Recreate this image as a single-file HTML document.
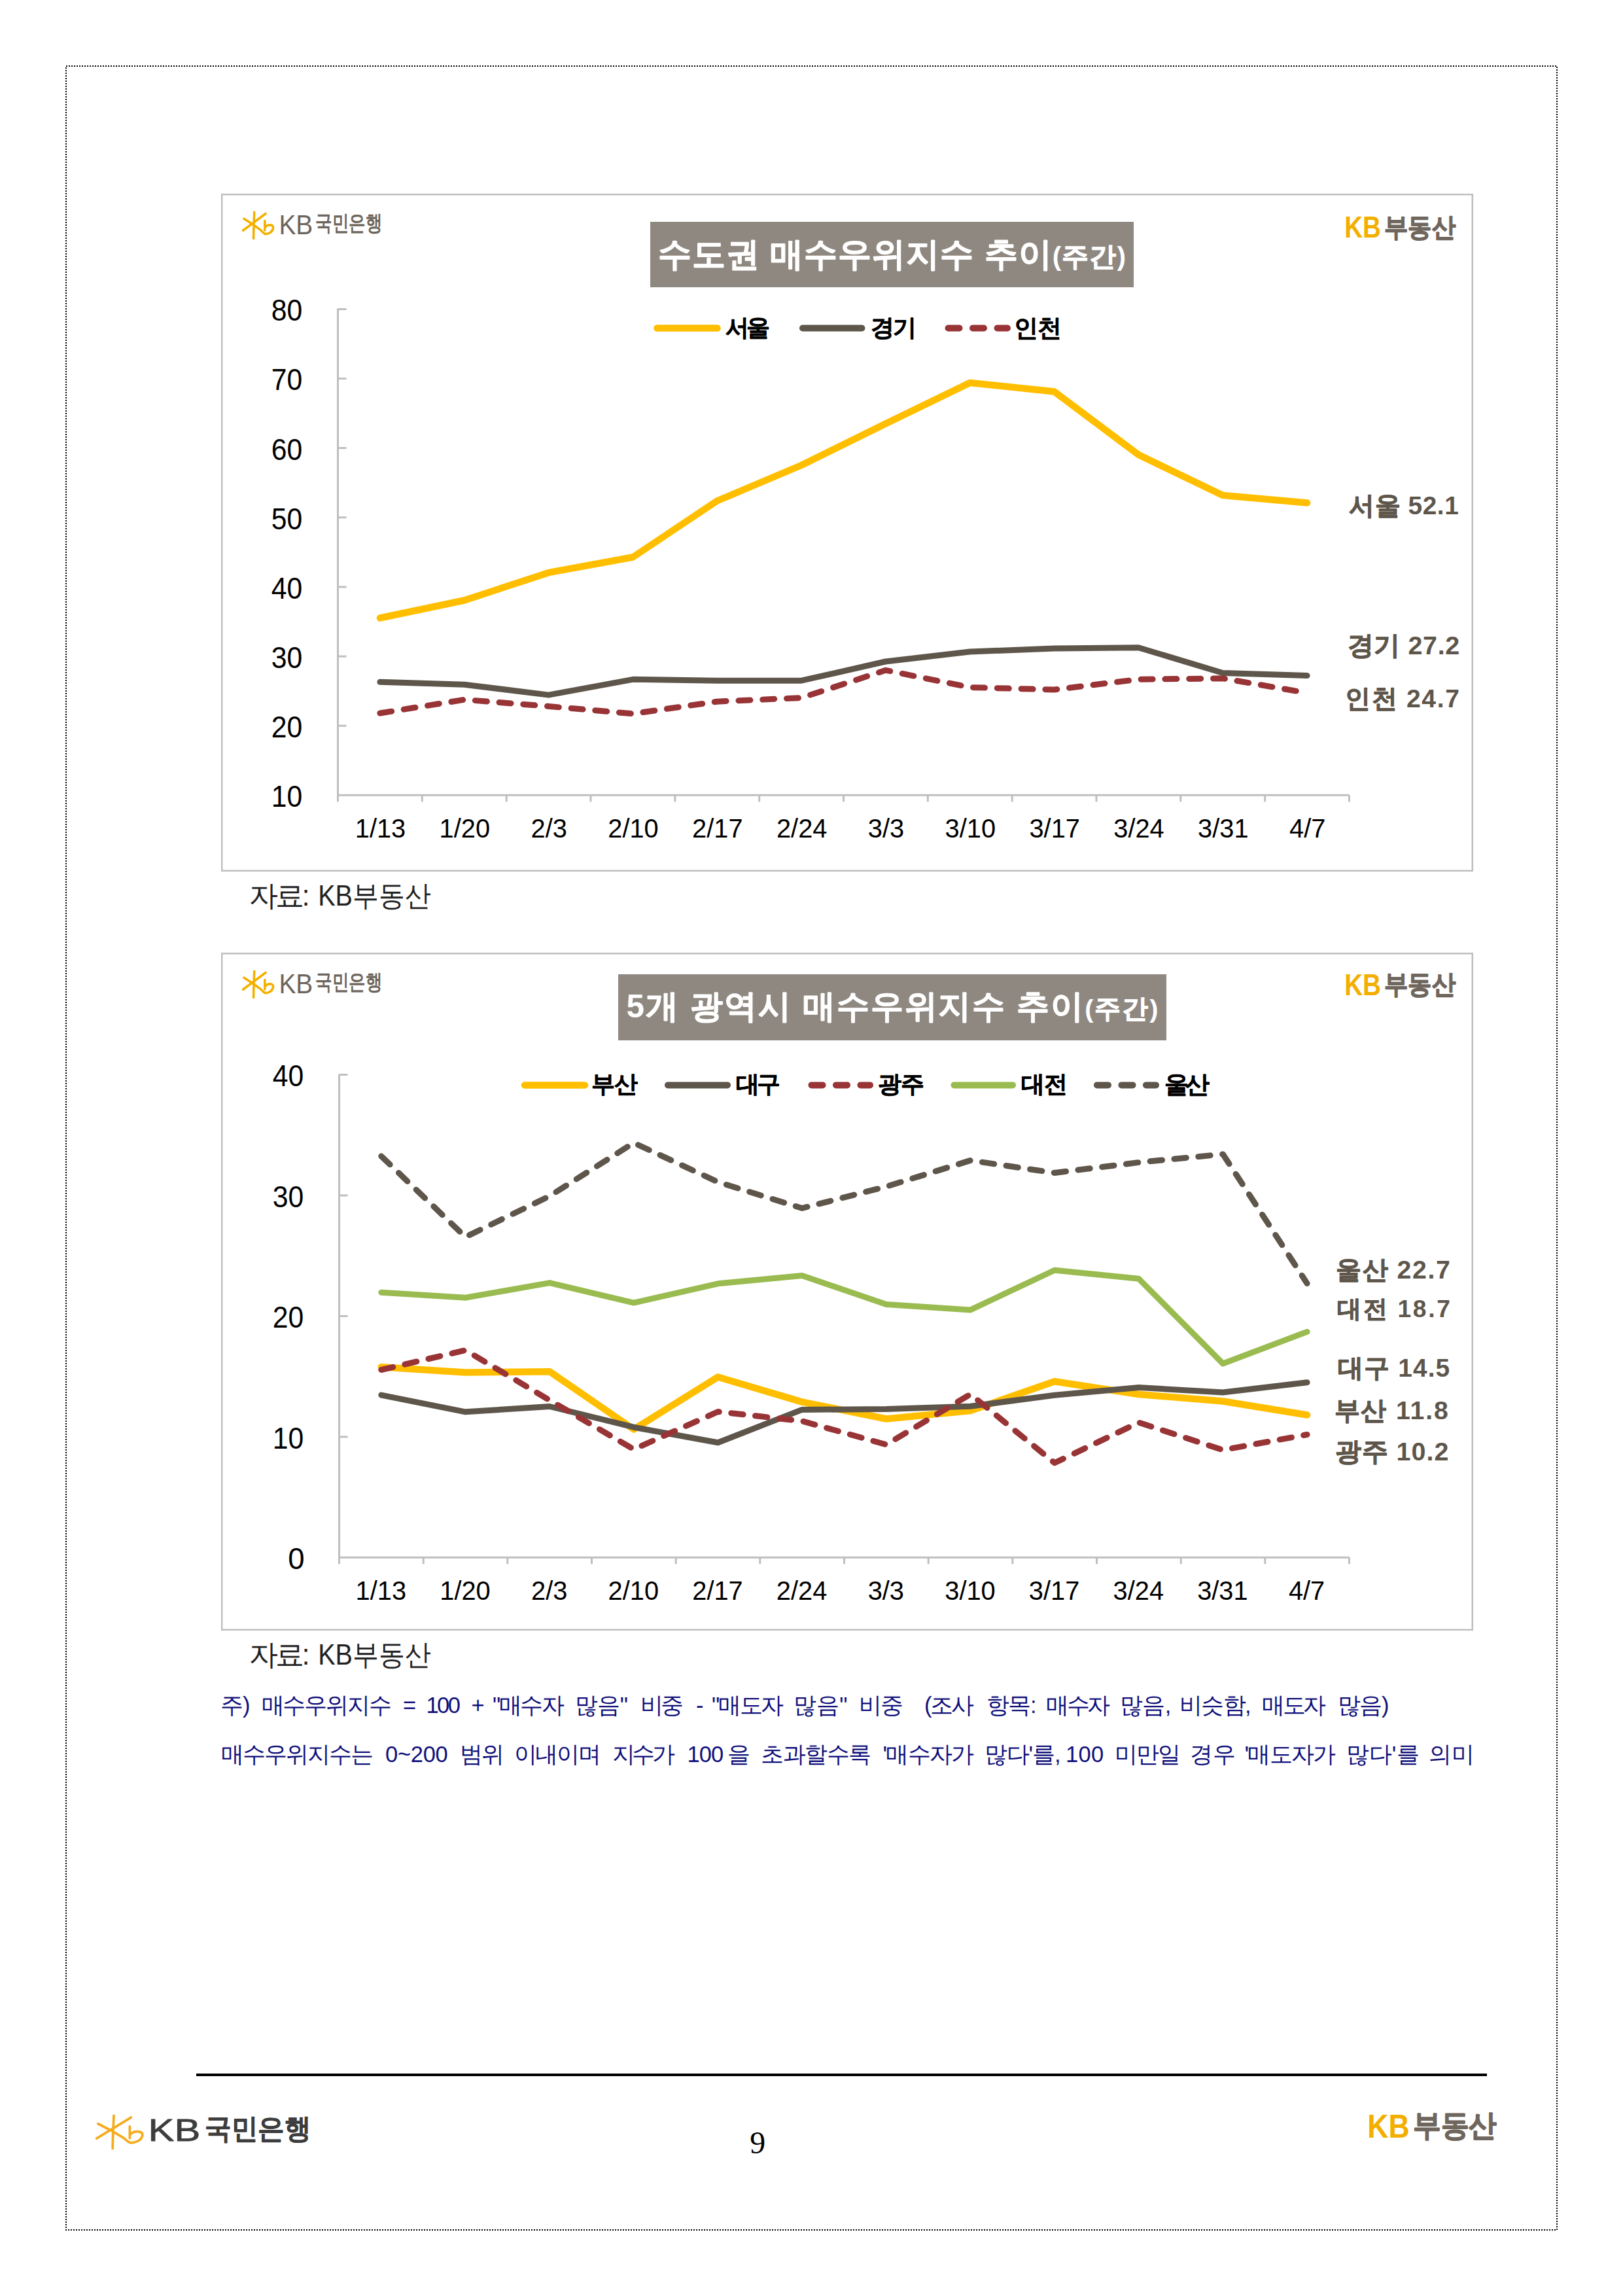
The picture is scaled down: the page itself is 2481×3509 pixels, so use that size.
<!DOCTYPE html>
<html><head><meta charset="utf-8">
<style>
html,body{margin:0;padding:0;background:#fff;}
body{width:2481px;height:3509px;position:relative;overflow:hidden;font-family:"Liberation Sans",sans-serif;}
text{white-space:pre;}
</style></head><body>
<svg style="position:absolute;left:0;top:0" width="2481" height="3509" viewBox="0 0 2481 3509">
<rect x="101" y="101" width="2279" height="3307" fill="none" stroke="#000" stroke-width="2" stroke-dasharray="2 2"/>
<rect x="339.2" y="297.2" width="1911.6" height="1033.6" fill="none" stroke="#bfbfbf" stroke-width="2.5"/>
<rect x="339.2" y="1457.2" width="1911.6" height="1033.6" fill="none" stroke="#bfbfbf" stroke-width="2.5"/>
<rect x="994" y="339" width="739" height="100" fill="#8f8881"/>
<rect x="945" y="1489" width="838" height="101" fill="#8f8881"/>
<line x1="516.5" y1="471.5" x2="516.5" y2="1215.3" stroke="#bfbfbf" stroke-width="3"/>
<line x1="516.5" y1="472.5" x2="529.5" y2="472.5" stroke="#bfbfbf" stroke-width="3"/>
<line x1="516.5" y1="578.6" x2="529.5" y2="578.6" stroke="#bfbfbf" stroke-width="3"/>
<line x1="516.5" y1="684.7" x2="529.5" y2="684.7" stroke="#bfbfbf" stroke-width="3"/>
<line x1="516.5" y1="790.8" x2="529.5" y2="790.8" stroke="#bfbfbf" stroke-width="3"/>
<line x1="516.5" y1="897.0" x2="529.5" y2="897.0" stroke="#bfbfbf" stroke-width="3"/>
<line x1="516.5" y1="1003.1" x2="529.5" y2="1003.1" stroke="#bfbfbf" stroke-width="3"/>
<line x1="516.5" y1="1109.2" x2="529.5" y2="1109.2" stroke="#bfbfbf" stroke-width="3"/>
<line x1="515.0" y1="1215.3" x2="2062.5" y2="1215.3" stroke="#bfbfbf" stroke-width="3"/>
<line x1="516.5" y1="1215.3" x2="516.5" y2="1225.3" stroke="#bfbfbf" stroke-width="3"/>
<line x1="645.3" y1="1215.3" x2="645.3" y2="1225.3" stroke="#bfbfbf" stroke-width="3"/>
<line x1="774.2" y1="1215.3" x2="774.2" y2="1225.3" stroke="#bfbfbf" stroke-width="3"/>
<line x1="903.0" y1="1215.3" x2="903.0" y2="1225.3" stroke="#bfbfbf" stroke-width="3"/>
<line x1="1031.8" y1="1215.3" x2="1031.8" y2="1225.3" stroke="#bfbfbf" stroke-width="3"/>
<line x1="1160.7" y1="1215.3" x2="1160.7" y2="1225.3" stroke="#bfbfbf" stroke-width="3"/>
<line x1="1289.5" y1="1215.3" x2="1289.5" y2="1225.3" stroke="#bfbfbf" stroke-width="3"/>
<line x1="1418.3" y1="1215.3" x2="1418.3" y2="1225.3" stroke="#bfbfbf" stroke-width="3"/>
<line x1="1547.2" y1="1215.3" x2="1547.2" y2="1225.3" stroke="#bfbfbf" stroke-width="3"/>
<line x1="1676.0" y1="1215.3" x2="1676.0" y2="1225.3" stroke="#bfbfbf" stroke-width="3"/>
<line x1="1804.8" y1="1215.3" x2="1804.8" y2="1225.3" stroke="#bfbfbf" stroke-width="3"/>
<line x1="1933.7" y1="1215.3" x2="1933.7" y2="1225.3" stroke="#bfbfbf" stroke-width="3"/>
<line x1="2062.5" y1="1215.3" x2="2062.5" y2="1225.3" stroke="#bfbfbf" stroke-width="3"/>
<line x1="518.5" y1="1641.5" x2="518.5" y2="2380.3" stroke="#bfbfbf" stroke-width="3"/>
<line x1="518.5" y1="1642.5" x2="531.5" y2="1642.5" stroke="#bfbfbf" stroke-width="3"/>
<line x1="518.5" y1="1827.0" x2="531.5" y2="1827.0" stroke="#bfbfbf" stroke-width="3"/>
<line x1="518.5" y1="2011.4" x2="531.5" y2="2011.4" stroke="#bfbfbf" stroke-width="3"/>
<line x1="518.5" y1="2195.9" x2="531.5" y2="2195.9" stroke="#bfbfbf" stroke-width="3"/>
<line x1="517.0" y1="2380.3" x2="2062.5" y2="2380.3" stroke="#bfbfbf" stroke-width="3"/>
<line x1="518.5" y1="2380.3" x2="518.5" y2="2390.3" stroke="#bfbfbf" stroke-width="3"/>
<line x1="647.2" y1="2380.3" x2="647.2" y2="2390.3" stroke="#bfbfbf" stroke-width="3"/>
<line x1="775.8" y1="2380.3" x2="775.8" y2="2390.3" stroke="#bfbfbf" stroke-width="3"/>
<line x1="904.5" y1="2380.3" x2="904.5" y2="2390.3" stroke="#bfbfbf" stroke-width="3"/>
<line x1="1033.2" y1="2380.3" x2="1033.2" y2="2390.3" stroke="#bfbfbf" stroke-width="3"/>
<line x1="1161.8" y1="2380.3" x2="1161.8" y2="2390.3" stroke="#bfbfbf" stroke-width="3"/>
<line x1="1290.5" y1="2380.3" x2="1290.5" y2="2390.3" stroke="#bfbfbf" stroke-width="3"/>
<line x1="1419.2" y1="2380.3" x2="1419.2" y2="2390.3" stroke="#bfbfbf" stroke-width="3"/>
<line x1="1547.8" y1="2380.3" x2="1547.8" y2="2390.3" stroke="#bfbfbf" stroke-width="3"/>
<line x1="1676.5" y1="2380.3" x2="1676.5" y2="2390.3" stroke="#bfbfbf" stroke-width="3"/>
<line x1="1805.2" y1="2380.3" x2="1805.2" y2="2390.3" stroke="#bfbfbf" stroke-width="3"/>
<line x1="1933.8" y1="2380.3" x2="1933.8" y2="2390.3" stroke="#bfbfbf" stroke-width="3"/>
<line x1="2062.5" y1="2380.3" x2="2062.5" y2="2390.3" stroke="#bfbfbf" stroke-width="3"/>
<rect x="300" y="3169" width="1973" height="4" fill="#000"/>
<polyline points="580.9,944.5 709.7,917.5 838.6,875.2 967.4,851.5 1096.2,765.5 1225.1,711.0 1353.9,647.5 1482.7,585.0 1611.6,598.5 1740.4,695.0 1869.2,757.0 1998.1,768.5" fill="none" stroke="#ffbf00" stroke-width="10.5" stroke-linecap="round" stroke-linejoin="round"/>
<polyline points="580.9,1042.3 709.7,1046.2 838.6,1062.1 967.4,1038.3 1096.2,1040.2 1225.1,1040.2 1353.9,1011.0 1482.7,996.0 1611.6,991.0 1740.4,989.7 1869.2,1028.5 1998.1,1032.5" fill="none" stroke="#5f564b" stroke-width="9" stroke-linecap="round" stroke-linejoin="round"/>
<polyline points="580.9,1090.0 709.7,1069.3 838.6,1079.5 967.4,1090.8 1096.2,1072.2 1225.1,1066.5 1353.9,1024.3 1482.7,1050.5 1611.6,1054.0 1740.4,1038.3 1869.2,1036.8 1998.1,1059.0" fill="none" stroke="#993436" stroke-width="9" stroke-linecap="round" stroke-linejoin="round" stroke-dasharray="18 18.8"/>
<polyline points="582.8,2089.2 711.5,2097.4 840.2,2096.2 968.8,2184.5 1097.5,2104.5 1226.1,2142.6 1354.8,2168.5 1483.5,2156.0 1612.1,2111.2 1740.8,2131.0 1869.4,2141.5 1998.1,2162.5" fill="none" stroke="#ffbf00" stroke-width="10.5" stroke-linecap="round" stroke-linejoin="round"/>
<polyline points="582.8,2132.1 711.5,2157.8 840.2,2149.5 968.8,2181.2 1097.5,2204.8 1226.1,2154.4 1354.8,2153.6 1483.5,2149.2 1612.1,2132.3 1740.8,2120.5 1869.4,2128.0 1998.1,2112.8" fill="none" stroke="#5f564b" stroke-width="9" stroke-linecap="round" stroke-linejoin="round"/>
<polyline points="582.8,2093.5 711.5,2063.6 840.2,2140.0 968.8,2215.0 1097.5,2157.5 1226.1,2171.8 1354.8,2207.8 1483.5,2130.8 1612.1,2235.8 1740.8,2174.0 1869.4,2216.0 1998.1,2192.5" fill="none" stroke="#993436" stroke-width="9" stroke-linecap="round" stroke-linejoin="round" stroke-dasharray="18.5 18.5"/>
<polyline points="582.8,1975.3 711.5,1983.2 840.2,1960.6 968.8,1991.1 1097.5,1961.8 1226.1,1949.5 1354.8,1993.4 1483.5,2001.9 1612.1,1941.3 1740.8,1954.3 1869.4,2084.0 1998.1,2035.4" fill="none" stroke="#9abb50" stroke-width="9" stroke-linecap="round" stroke-linejoin="round"/>
<polyline points="582.8,1767.0 711.5,1890.5 840.2,1828.0 968.8,1746.6 1097.5,1806.5 1226.1,1846.5 1354.8,1813.5 1483.5,1773.5 1612.1,1792.5 1740.8,1776.5 1869.4,1764.0 1998.1,1961.5" fill="none" stroke="#5f564b" stroke-width="9" stroke-linecap="round" stroke-linejoin="round" stroke-dasharray="18.5 18.5"/>
<line x1="1004.5" y1="501.5" x2="1096.5" y2="501.5" stroke="#ffbf00" stroke-width="10.5" stroke-linecap="round"/>
<line x1="1227" y1="501.5" x2="1317.5" y2="501.5" stroke="#5f564b" stroke-width="10" stroke-linecap="round"/>
<line x1="1449.5" y1="501.5" x2="1540" y2="501.5" stroke="#993436" stroke-width="10" stroke-linecap="round" stroke-dasharray="17 20.5"/>
<line x1="802" y1="1658.4" x2="894" y2="1658.4" stroke="#ffbf00" stroke-width="10.5" stroke-linecap="round"/>
<line x1="1021" y1="1658.4" x2="1112" y2="1658.4" stroke="#5f564b" stroke-width="10" stroke-linecap="round"/>
<line x1="1240.5" y1="1658.4" x2="1330" y2="1658.4" stroke="#993436" stroke-width="10" stroke-linecap="round" stroke-dasharray="17 20.5"/>
<line x1="1458.5" y1="1658.4" x2="1548" y2="1658.4" stroke="#9abb50" stroke-width="10" stroke-linecap="round"/>
<line x1="1677" y1="1658.4" x2="1767" y2="1658.4" stroke="#5f564b" stroke-width="10" stroke-linecap="round" stroke-dasharray="17 20.5"/>
<text id="kbKB1" x="426.4" y="358.1" font-size="42.7" fill="#6d655d" font-weight="normal" font-family="'Liberation Sans', sans-serif" textLength="51.9" lengthAdjust="spacingAndGlyphs">KB</text>
<text id="kbkm1" x="482.0" y="352.4" font-size="33.3" fill="#6d655d" font-weight="bold" font-family="'Liberation Sans', sans-serif" textLength="102.0" lengthAdjust="spacingAndGlyphs">국민은행</text>
<text id="reKB1" x="2055.2" y="363.4" font-size="45.4" fill="#f3ae00" font-weight="bold" font-family="'Liberation Sans', sans-serif" textLength="55.8" lengthAdjust="spacingAndGlyphs">KB</text>
<text id="rebd1" x="2116.0" y="360.6" font-size="39.7" fill="#6f665d" font-weight="bold" font-family="'Liberation Sans', sans-serif" textLength="109.0" lengthAdjust="spacingAndGlyphs"><tspan stroke="#6f665d" stroke-width="1.4" stroke-linejoin="round">부동산</tspan></text>
<text id="kbKB2" x="426.4" y="1518.1" font-size="42.7" fill="#6d655d" font-weight="normal" font-family="'Liberation Sans', sans-serif" textLength="51.9" lengthAdjust="spacingAndGlyphs">KB</text>
<text id="kbkm2" x="482.0" y="1512.4" font-size="33.3" fill="#6d655d" font-weight="bold" font-family="'Liberation Sans', sans-serif" textLength="102.0" lengthAdjust="spacingAndGlyphs">국민은행</text>
<text id="reKB2" x="2055.2" y="1520.9" font-size="45.4" fill="#f3ae00" font-weight="bold" font-family="'Liberation Sans', sans-serif" textLength="55.8" lengthAdjust="spacingAndGlyphs">KB</text>
<text id="rebd2" x="2116.0" y="1518.1" font-size="39.7" fill="#6f665d" font-weight="bold" font-family="'Liberation Sans', sans-serif" textLength="109.0" lengthAdjust="spacingAndGlyphs"><tspan stroke="#6f665d" stroke-width="1.4" stroke-linejoin="round">부동산</tspan></text>
<text id="title1" x="1006.0" y="406.0" font-size="50.7" fill="#fff" font-weight="bold" font-family="'Liberation Sans', sans-serif" textLength="714.9" lengthAdjust="spacing"><tspan stroke="#fff" stroke-width="1.0" stroke-linejoin="round">수도권</tspan> <tspan stroke="#fff" stroke-width="1.0" stroke-linejoin="round">매수우위지수</tspan> <tspan stroke="#fff" stroke-width="1.0" stroke-linejoin="round">추이</tspan><tspan font-size="0.8em">(<tspan stroke="#fff" stroke-width="1.0" stroke-linejoin="round">주간</tspan>)</tspan></text>
<text id="title2" x="957.6" y="1555.1" font-size="49.5" fill="#fff" font-weight="bold" font-family="'Liberation Sans', sans-serif" textLength="812.9" lengthAdjust="spacing">5<tspan stroke="#fff" stroke-width="1.0" stroke-linejoin="round">개</tspan> <tspan stroke="#fff" stroke-width="1.0" stroke-linejoin="round">광역시</tspan> <tspan stroke="#fff" stroke-width="1.0" stroke-linejoin="round">매수우위지수</tspan> <tspan stroke="#fff" stroke-width="1.0" stroke-linejoin="round">추이</tspan><tspan font-size="0.8em">(<tspan stroke="#fff" stroke-width="1.0" stroke-linejoin="round">주간</tspan>)</tspan></text>
<text id="lg_s" x="1109.0" y="513.4" font-size="35.7" fill="#000" font-weight="bold" font-family="'Liberation Sans', sans-serif" textLength="68.2" lengthAdjust="spacing"><tspan stroke="#000" stroke-width="0.6" stroke-linejoin="round">서울</tspan></text>
<text id="lg_g" x="1330.5" y="513.4" font-size="35.7" fill="#000" font-weight="bold" font-family="'Liberation Sans', sans-serif" textLength="70.6" lengthAdjust="spacing"><tspan stroke="#000" stroke-width="0.6" stroke-linejoin="round">경기</tspan></text>
<text id="lg_i" x="1550.0" y="513.9" font-size="36.5" fill="#000" font-weight="bold" font-family="'Liberation Sans', sans-serif" textLength="72.6" lengthAdjust="spacing"><tspan stroke="#000" stroke-width="0.6" stroke-linejoin="round">인천</tspan></text>
<text id="lg_bs" x="904.0" y="1669.0" font-size="36.0" fill="#000" font-weight="bold" font-family="'Liberation Sans', sans-serif" textLength="71.4" lengthAdjust="spacing"><tspan stroke="#000" stroke-width="0.6" stroke-linejoin="round">부산</tspan></text>
<text id="lg_dg" x="1125.0" y="1669.0" font-size="36.0" fill="#000" font-weight="bold" font-family="'Liberation Sans', sans-serif" textLength="68.4" lengthAdjust="spacing"><tspan stroke="#000" stroke-width="0.6" stroke-linejoin="round">대구</tspan></text>
<text id="lg_gj" x="1341.5" y="1669.0" font-size="36.0" fill="#000" font-weight="bold" font-family="'Liberation Sans', sans-serif" textLength="71.4" lengthAdjust="spacing"><tspan stroke="#000" stroke-width="0.6" stroke-linejoin="round">광주</tspan></text>
<text id="lg_dj" x="1561.0" y="1669.0" font-size="36.0" fill="#000" font-weight="bold" font-family="'Liberation Sans', sans-serif" textLength="71.0" lengthAdjust="spacing"><tspan stroke="#000" stroke-width="0.6" stroke-linejoin="round">대전</tspan></text>
<text id="lg_us" x="1779.5" y="1669.5" font-size="36.9" fill="#000" font-weight="bold" font-family="'Liberation Sans', sans-serif" textLength="69.4" lengthAdjust="spacing"><tspan stroke="#000" stroke-width="0.6" stroke-linejoin="round">울산</tspan></text>
<text id="r_s" x="2062.0" y="785.7" font-size="38.8" fill="#5e564b" font-weight="bold" font-family="'Liberation Sans', sans-serif" textLength="167.8" lengthAdjust="spacing"><tspan stroke="#5e564b" stroke-width="0.9" stroke-linejoin="round">서울</tspan> 52.1</text>
<text id="r_g" x="2059.5" y="1000.3" font-size="39.5" fill="#5e564b" font-weight="bold" font-family="'Liberation Sans', sans-serif" textLength="171.8" lengthAdjust="spacing"><tspan stroke="#5e564b" stroke-width="0.9" stroke-linejoin="round">경기</tspan> 27.2</text>
<text id="r_i" x="2056.0" y="1080.5" font-size="39.1" fill="#5e564b" font-weight="bold" font-family="'Liberation Sans', sans-serif" textLength="175.0" lengthAdjust="spacing"><tspan stroke="#5e564b" stroke-width="0.9" stroke-linejoin="round">인천</tspan> 24.7</text>
<text id="r_us" x="2042.0" y="1953.9" font-size="39.3" fill="#5e564b" font-weight="bold" font-family="'Liberation Sans', sans-serif" textLength="174.8" lengthAdjust="spacing"><tspan stroke="#5e564b" stroke-width="0.9" stroke-linejoin="round">울산</tspan> 22.7</text>
<text id="r_dj" x="2044.0" y="2013.2" font-size="37.2" fill="#5e564b" font-weight="bold" font-family="'Liberation Sans', sans-serif" textLength="173.0" lengthAdjust="spacing"><tspan stroke="#5e564b" stroke-width="0.9" stroke-linejoin="round">대전</tspan> 18.7</text>
<text id="r_dg" x="2045.0" y="2103.7" font-size="38.8" fill="#5e564b" font-weight="bold" font-family="'Liberation Sans', sans-serif" textLength="171.2" lengthAdjust="spacing"><tspan stroke="#5e564b" stroke-width="0.9" stroke-linejoin="round">대구</tspan> 14.5</text>
<text id="r_bs" x="2039.5" y="2169.0" font-size="39.2" fill="#5e564b" font-weight="bold" font-family="'Liberation Sans', sans-serif" textLength="174.2" lengthAdjust="spacing"><tspan stroke="#5e564b" stroke-width="0.9" stroke-linejoin="round">부산</tspan> 11.8</text>
<text id="r_gj" x="2040.5" y="2231.8" font-size="39.5" fill="#5e564b" font-weight="bold" font-family="'Liberation Sans', sans-serif" textLength="174.0" lengthAdjust="spacing"><tspan stroke="#5e564b" stroke-width="0.9" stroke-linejoin="round">광주</tspan> 10.2</text>
<text id="srcA1" x="381.0" y="1383.9" font-size="43.6" fill="#222" font-weight="normal" font-family="'Liberation Sans', sans-serif" textLength="92.7" lengthAdjust="spacing">자료:</text>
<text id="srcB1" x="486.2" y="1383.9" font-size="43.6" fill="#222" font-weight="normal" font-family="'Liberation Sans', sans-serif" textLength="172.4" lengthAdjust="spacingAndGlyphs">KB부동산</text>
<text id="srcA2" x="381.0" y="2543.9" font-size="43.6" fill="#222" font-weight="normal" font-family="'Liberation Sans', sans-serif" textLength="92.7" lengthAdjust="spacing">자료:</text>
<text id="srcB2" x="486.2" y="2543.9" font-size="43.6" fill="#222" font-weight="normal" font-family="'Liberation Sans', sans-serif" textLength="172.4" lengthAdjust="spacingAndGlyphs">KB부동산</text>
<text id="n0_0" x="336.5" y="2617.5" font-size="34.5" fill="#10107a" font-weight="normal" font-family="'Liberation Sans', sans-serif" textLength="46.1" lengthAdjust="spacing">주)</text>
<text id="n0_1" x="399.5" y="2617.5" font-size="34.5" fill="#10107a" font-weight="normal" font-family="'Liberation Sans', sans-serif" textLength="199.0" lengthAdjust="spacing">매수우위지수</text>
<text id="n0_2" x="616.0" y="2617.5" font-size="34.5" fill="#10107a" font-weight="normal" font-family="'Liberation Sans', sans-serif">=</text>
<text id="n0_3" x="651.5" y="2617.5" font-size="34.5" fill="#10107a" font-weight="normal" font-family="'Liberation Sans', sans-serif" textLength="52.4" lengthAdjust="spacing">100</text>
<text id="n0_4" x="720.5" y="2617.5" font-size="34.5" fill="#10107a" font-weight="normal" font-family="'Liberation Sans', sans-serif">+</text>
<text id="n0_5" x="753.0" y="2617.5" font-size="34.5" fill="#10107a" font-weight="normal" font-family="'Liberation Sans', sans-serif" textLength="109.9" lengthAdjust="spacing">&quot;매수자</text>
<text id="n0_6" x="879.0" y="2617.5" font-size="34.5" fill="#10107a" font-weight="normal" font-family="'Liberation Sans', sans-serif" textLength="81.1" lengthAdjust="spacing">많음&quot;</text>
<text id="n0_7" x="978.5" y="2617.5" font-size="34.5" fill="#10107a" font-weight="normal" font-family="'Liberation Sans', sans-serif" textLength="66.6" lengthAdjust="spacing">비중</text>
<text id="n0_8" x="1064.0" y="2617.5" font-size="34.5" fill="#10107a" font-weight="normal" font-family="'Liberation Sans', sans-serif">-</text>
<text id="n0_9" x="1088.0" y="2617.5" font-size="34.5" fill="#10107a" font-weight="normal" font-family="'Liberation Sans', sans-serif" textLength="110.4" lengthAdjust="spacing">&quot;매도자</text>
<text id="n0_10" x="1213.0" y="2617.5" font-size="34.5" fill="#10107a" font-weight="normal" font-family="'Liberation Sans', sans-serif" textLength="82.6" lengthAdjust="spacing">많음&quot;</text>
<text id="n0_11" x="1313.0" y="2617.5" font-size="34.5" fill="#10107a" font-weight="normal" font-family="'Liberation Sans', sans-serif" textLength="68.0" lengthAdjust="spacing">비중</text>
<text id="n0_12" x="1413.0" y="2617.5" font-size="34.5" fill="#10107a" font-weight="normal" font-family="'Liberation Sans', sans-serif" textLength="75.7" lengthAdjust="spacing">(조사</text>
<text id="n0_13" x="1507.5" y="2617.5" font-size="34.5" fill="#10107a" font-weight="normal" font-family="'Liberation Sans', sans-serif" textLength="77.0" lengthAdjust="spacing">항목:</text>
<text id="n0_14" x="1599.0" y="2617.5" font-size="34.5" fill="#10107a" font-weight="normal" font-family="'Liberation Sans', sans-serif" textLength="98.2" lengthAdjust="spacing">매수자</text>
<text id="n0_15" x="1712.0" y="2617.5" font-size="34.5" fill="#10107a" font-weight="normal" font-family="'Liberation Sans', sans-serif" textLength="78.4" lengthAdjust="spacing">많음,</text>
<text id="n0_16" x="1803.0" y="2617.5" font-size="34.5" fill="#10107a" font-weight="normal" font-family="'Liberation Sans', sans-serif" textLength="109.6" lengthAdjust="spacing">비슷함,</text>
<text id="n0_17" x="1929.0" y="2617.5" font-size="34.5" fill="#10107a" font-weight="normal" font-family="'Liberation Sans', sans-serif" textLength="98.0" lengthAdjust="spacing">매도자</text>
<text id="n0_18" x="2044.5" y="2617.5" font-size="34.5" fill="#10107a" font-weight="normal" font-family="'Liberation Sans', sans-serif" textLength="79.1" lengthAdjust="spacing">많음)</text>
<text id="n1_0" x="338.0" y="2692.5" font-size="34.5" fill="#10107a" font-weight="normal" font-family="'Liberation Sans', sans-serif" textLength="233.4" lengthAdjust="spacing">매수우위지수는</text>
<text id="n1_1" x="589.0" y="2692.5" font-size="34.5" fill="#10107a" font-weight="normal" font-family="'Liberation Sans', sans-serif" textLength="95.7" lengthAdjust="spacing">0~200</text>
<text id="n1_2" x="703.0" y="2692.5" font-size="34.5" fill="#10107a" font-weight="normal" font-family="'Liberation Sans', sans-serif" textLength="67.8" lengthAdjust="spacing">범위</text>
<text id="n1_3" x="785.5" y="2692.5" font-size="34.5" fill="#10107a" font-weight="normal" font-family="'Liberation Sans', sans-serif" textLength="133.4" lengthAdjust="spacing">이내이며</text>
<text id="n1_4" x="935.5" y="2692.5" font-size="34.5" fill="#10107a" font-weight="normal" font-family="'Liberation Sans', sans-serif" textLength="96.8" lengthAdjust="spacing">지수가</text>
<text id="n1_5" x="1050.5" y="2692.5" font-size="34.5" fill="#10107a" font-weight="normal" font-family="'Liberation Sans', sans-serif" textLength="55.8" lengthAdjust="spacing">100</text>
<text id="n1_6" x="1111.5" y="2692.5" font-size="34.5" fill="#10107a" font-weight="normal" font-family="'Liberation Sans', sans-serif">을</text>
<text id="n1_7" x="1163.0" y="2692.5" font-size="34.5" fill="#10107a" font-weight="normal" font-family="'Liberation Sans', sans-serif" textLength="169.0" lengthAdjust="spacing">초과할수록</text>
<text id="n1_8" x="1349.5" y="2692.5" font-size="34.5" fill="#10107a" font-weight="normal" font-family="'Liberation Sans', sans-serif" textLength="139.6" lengthAdjust="spacing">'매수자가</text>
<text id="n1_9" x="1504.5" y="2692.5" font-size="34.5" fill="#10107a" font-weight="normal" font-family="'Liberation Sans', sans-serif" textLength="117.2" lengthAdjust="spacing">많다'를,</text>
<text id="n1_10" x="1629.0" y="2692.5" font-size="34.5" fill="#10107a" font-weight="normal" font-family="'Liberation Sans', sans-serif" textLength="58.2" lengthAdjust="spacing">100</text>
<text id="n1_11" x="1704.0" y="2692.5" font-size="34.5" fill="#10107a" font-weight="normal" font-family="'Liberation Sans', sans-serif" textLength="101.2" lengthAdjust="spacing">미만일</text>
<text id="n1_12" x="1818.5" y="2692.5" font-size="34.5" fill="#10107a" font-weight="normal" font-family="'Liberation Sans', sans-serif" textLength="70.8" lengthAdjust="spacing">경우</text>
<text id="n1_13" x="1902.5" y="2692.5" font-size="34.5" fill="#10107a" font-weight="normal" font-family="'Liberation Sans', sans-serif" textLength="139.6" lengthAdjust="spacing">'매도자가</text>
<text id="n1_14" x="2057.5" y="2692.5" font-size="34.5" fill="#10107a" font-weight="normal" font-family="'Liberation Sans', sans-serif" textLength="112.0" lengthAdjust="spacing">많다'를</text>
<text id="n1_15" x="2184.0" y="2692.5" font-size="34.5" fill="#10107a" font-weight="normal" font-family="'Liberation Sans', sans-serif" textLength="70.0" lengthAdjust="spacing">의미</text>
<text id="fKB" x="226.6" y="3271.9" font-size="47.8" fill="#3d3d3d" font-weight="normal" font-family="'Liberation Sans', sans-serif" textLength="79.6" lengthAdjust="spacingAndGlyphs" stroke="#3d3d3d" stroke-width="0.8" stroke-linejoin="round">KB</text>
<text id="fkm" x="313.2" y="3268.2" font-size="43.4" fill="#3d3d3d" font-weight="bold" font-family="'Liberation Sans', sans-serif" textLength="162.0" lengthAdjust="spacingAndGlyphs"><tspan stroke="#3d3d3d" stroke-width="0.5" stroke-linejoin="round">국민은행</tspan></text>
<text id="p9" x="1146.2" y="3290.6" font-size="47.9" fill="#000" font-weight="normal" font-family="'Liberation Serif', serif">9</text>
<text id="fre_KB" x="2090.2" y="3267.1" font-size="50.6" fill="#f3ae00" font-weight="bold" font-family="'Liberation Sans', sans-serif" textLength="64.5" lengthAdjust="spacingAndGlyphs">KB</text>
<text id="fre_bd" x="2160.0" y="3264.1" font-size="45.5" fill="#6f665d" font-weight="bold" font-family="'Liberation Sans', sans-serif" textLength="128.2" lengthAdjust="spacingAndGlyphs"><tspan stroke="#6f665d" stroke-width="1.4" stroke-linejoin="round">부동산</tspan></text>
<text x="462.2" y="490.3" font-size="45.5" text-anchor="end" textLength="47.5" lengthAdjust="spacingAndGlyphs" font-family="'Liberation Sans', sans-serif">80</text>
<text x="462.2" y="596.4" font-size="45.5" text-anchor="end" textLength="47.5" lengthAdjust="spacingAndGlyphs" font-family="'Liberation Sans', sans-serif">70</text>
<text x="462.2" y="702.5" font-size="45.5" text-anchor="end" textLength="47.5" lengthAdjust="spacingAndGlyphs" font-family="'Liberation Sans', sans-serif">60</text>
<text x="462.2" y="808.6" font-size="45.5" text-anchor="end" textLength="47.5" lengthAdjust="spacingAndGlyphs" font-family="'Liberation Sans', sans-serif">50</text>
<text x="462.2" y="914.8" font-size="45.5" text-anchor="end" textLength="47.5" lengthAdjust="spacingAndGlyphs" font-family="'Liberation Sans', sans-serif">40</text>
<text x="462.2" y="1020.9" font-size="45.5" text-anchor="end" textLength="47.5" lengthAdjust="spacingAndGlyphs" font-family="'Liberation Sans', sans-serif">30</text>
<text x="462.2" y="1127.0" font-size="45.5" text-anchor="end" textLength="47.5" lengthAdjust="spacingAndGlyphs" font-family="'Liberation Sans', sans-serif">20</text>
<text x="462.2" y="1233.1" font-size="45.5" text-anchor="end" textLength="47.5" lengthAdjust="spacingAndGlyphs" font-family="'Liberation Sans', sans-serif">10</text>
<text x="464.3" y="1660.3" font-size="45.5" text-anchor="end" textLength="47.5" lengthAdjust="spacingAndGlyphs" font-family="'Liberation Sans', sans-serif">40</text>
<text x="464.3" y="1844.8" font-size="45.5" text-anchor="end" textLength="47.5" lengthAdjust="spacingAndGlyphs" font-family="'Liberation Sans', sans-serif">30</text>
<text x="464.3" y="2029.2" font-size="45.5" text-anchor="end" textLength="47.5" lengthAdjust="spacingAndGlyphs" font-family="'Liberation Sans', sans-serif">20</text>
<text x="464.3" y="2213.7" font-size="45.5" text-anchor="end" textLength="47.5" lengthAdjust="spacingAndGlyphs" font-family="'Liberation Sans', sans-serif">10</text>
<text x="465.5" y="2398.1" font-size="45.5" text-anchor="end" font-family="'Liberation Sans', sans-serif">0</text>
<text x="581.5" y="1280.0" font-size="39.8" text-anchor="middle" font-family="'Liberation Sans', sans-serif">1/13</text>
<text x="582.3" y="2445.0" font-size="39.8" text-anchor="middle" font-family="'Liberation Sans', sans-serif">1/13</text>
<text x="710.3" y="1280.0" font-size="39.8" text-anchor="middle" font-family="'Liberation Sans', sans-serif">1/20</text>
<text x="711.0" y="2445.0" font-size="39.8" text-anchor="middle" font-family="'Liberation Sans', sans-serif">1/20</text>
<text x="839.2" y="1280.0" font-size="39.8" text-anchor="middle" font-family="'Liberation Sans', sans-serif">2/3</text>
<text x="839.7" y="2445.0" font-size="39.8" text-anchor="middle" font-family="'Liberation Sans', sans-serif">2/3</text>
<text x="968.0" y="1280.0" font-size="39.8" text-anchor="middle" font-family="'Liberation Sans', sans-serif">2/10</text>
<text x="968.3" y="2445.0" font-size="39.8" text-anchor="middle" font-family="'Liberation Sans', sans-serif">2/10</text>
<text x="1096.8" y="1280.0" font-size="39.8" text-anchor="middle" font-family="'Liberation Sans', sans-serif">2/17</text>
<text x="1097.0" y="2445.0" font-size="39.8" text-anchor="middle" font-family="'Liberation Sans', sans-serif">2/17</text>
<text x="1225.7" y="1280.0" font-size="39.8" text-anchor="middle" font-family="'Liberation Sans', sans-serif">2/24</text>
<text x="1225.6" y="2445.0" font-size="39.8" text-anchor="middle" font-family="'Liberation Sans', sans-serif">2/24</text>
<text x="1354.5" y="1280.0" font-size="39.8" text-anchor="middle" font-family="'Liberation Sans', sans-serif">3/3</text>
<text x="1354.3" y="2445.0" font-size="39.8" text-anchor="middle" font-family="'Liberation Sans', sans-serif">3/3</text>
<text x="1483.3" y="1280.0" font-size="39.8" text-anchor="middle" font-family="'Liberation Sans', sans-serif">3/10</text>
<text x="1483.0" y="2445.0" font-size="39.8" text-anchor="middle" font-family="'Liberation Sans', sans-serif">3/10</text>
<text x="1612.2" y="1280.0" font-size="39.8" text-anchor="middle" font-family="'Liberation Sans', sans-serif">3/17</text>
<text x="1611.6" y="2445.0" font-size="39.8" text-anchor="middle" font-family="'Liberation Sans', sans-serif">3/17</text>
<text x="1741.0" y="1280.0" font-size="39.8" text-anchor="middle" font-family="'Liberation Sans', sans-serif">3/24</text>
<text x="1740.3" y="2445.0" font-size="39.8" text-anchor="middle" font-family="'Liberation Sans', sans-serif">3/24</text>
<text x="1869.8" y="1280.0" font-size="39.8" text-anchor="middle" font-family="'Liberation Sans', sans-serif">3/31</text>
<text x="1868.9" y="2445.0" font-size="39.8" text-anchor="middle" font-family="'Liberation Sans', sans-serif">3/31</text>
<text x="1998.7" y="1280.0" font-size="39.8" text-anchor="middle" font-family="'Liberation Sans', sans-serif">4/7</text>
<text x="1997.6" y="2445.0" font-size="39.8" text-anchor="middle" font-family="'Liberation Sans', sans-serif">4/7</text>
</svg>
<svg style="position:absolute;left:371px;top:324px;overflow:visible" width="48" height="41" viewBox="0 0 100 100" preserveAspectRatio="none"><path d="M36.9,1 C36,35 34.5,70 34.6,99 M4,25 L31,45 L58,68 C64,76 68,81 72,82 M1,69 L73,6 M70.4,33 L70.4,68 M70.4,58 C80,44 99,46 97,60 C95,75 82,82 72,82" fill="none" stroke="#f3b100" stroke-width="3.6" stroke-linecap="round" stroke-linejoin="round" vector-effect="non-scaling-stroke"/></svg>
<svg style="position:absolute;left:371px;top:1484px;overflow:visible" width="48" height="41" viewBox="0 0 100 100" preserveAspectRatio="none"><path d="M36.9,1 C36,35 34.5,70 34.6,99 M4,25 L31,45 L58,68 C64,76 68,81 72,82 M1,69 L73,6 M70.4,33 L70.4,68 M70.4,58 C80,44 99,46 97,60 C95,75 82,82 72,82" fill="none" stroke="#f3b100" stroke-width="3.6" stroke-linecap="round" stroke-linejoin="round" vector-effect="non-scaling-stroke"/></svg>
<svg style="position:absolute;left:147px;top:3233px;overflow:visible" width="73" height="51" viewBox="0 0 100 100" preserveAspectRatio="none"><path d="M36.9,1 C36,35 34.5,70 34.6,99 M4,25 L31,45 L58,68 C64,76 68,81 72,82 M1,69 L73,6 M70.4,33 L70.4,68 M70.4,58 C80,44 99,46 97,60 C95,75 82,82 72,82" fill="none" stroke="#f5ac1e" stroke-width="3.8" stroke-linecap="round" stroke-linejoin="round" vector-effect="non-scaling-stroke"/></svg>
</body></html>
